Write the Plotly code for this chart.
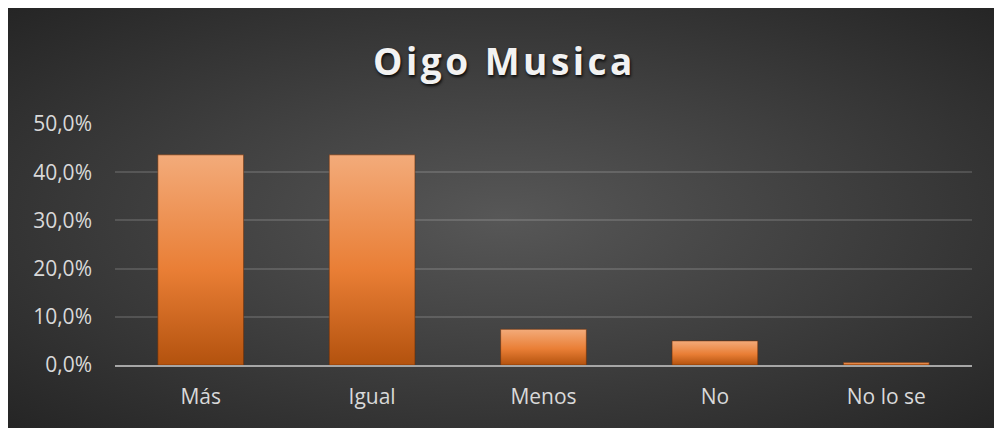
import base64
import plotly.graph_objects as go

# ---- data ----
categories = ["Más", "Igual", "Menos", "No", "No lo se"]
values = [0.436, 0.436, 0.074, 0.050, 0.005]
y_tickvals = [0.0, 0.1, 0.2, 0.3, 0.4, 0.5]
y_ticktext = ["0,0%", "10,0%", "20,0%", "30,0%", "40,0%", "50,0%"]
title_text = "Oigo Musica"

W, H = 994, 420
L, R, T, B = 107, 30, 116, 63
pw, ph = W - L - R, H - T - B

# radial gradient background
svg = ("<svg xmlns='http://www.w3.org/2000/svg' width='994' height='420' preserveAspectRatio='none'>"
       "<defs><radialGradient id='g' cx='0.5' cy='0.5' r='0.72'>"
       "<stop offset='0' stop-color='#575757'/><stop offset='1' stop-color='#242424'/>"
       "</radialGradient></defs><rect width='994' height='420' fill='url(#g)'/></svg>")
src = "data:image/svg+xml;base64," + base64.b64encode(svg.encode()).decode()

fig = go.Figure()
bw = 0.25
for i, (c, v) in enumerate(zip(categories, values)):
    fig.add_trace(go.Scatter(
        x=[i - bw, i - bw, i + bw, i + bw, i - bw],
        y=[0, v, v, 0, 0],
        mode="lines", fill="toself",
        line=dict(color="rgba(110,45,5,0.55)", width=1),
        fillgradient=dict(type="vertical", start=0, stop=v,
                          colorscale=[[0, "#B3520E"], [0.45, "#E97E35"], [1, "#F3AB7A"]]),
        hoverinfo="skip", showlegend=False, name=c))

fig.update_layout(
    width=W, height=H,
    margin=dict(l=L, r=R, t=T, b=B),
    paper_bgcolor="#2a2a2a", plot_bgcolor="rgba(0,0,0,0)",
    images=[dict(source=src, xref="paper", yref="paper",
                 x=-L / pw, y=1 + T / ph, sizex=W / pw, sizey=H / ph,
                 xanchor="left", yanchor="top", sizing="stretch", layer="below")],
    title=dict(text="<span style='letter-spacing:3.5px'>" + title_text + "</span>",
               x=496.5 / W, xref="container", xanchor="center",
               y=1 - 54 / H, yref="container", yanchor="middle",
               font=dict(family="Open Sans", size=37, color="#f2f2f2", weight="bold",
                         shadow="1px 2px 3px rgba(0,0,0,0.85)")),
    font=dict(family="Open Sans", color="#d9d9d9"),
    xaxis=dict(range=[-0.5, 4.5], tickvals=list(range(len(categories))), ticktext=categories,
               showgrid=False, zeroline=False, showline=True, linecolor="#a6a6a6", linewidth=2,
               ticks="", tickfont=dict(size=21, color="#d9d9d9"), ticklabelstandoff=12,
               fixedrange=True),
    yaxis=dict(range=[0, 0.5], tickvals=y_tickvals, ticktext=y_ticktext,
               showgrid=True, gridcolor="rgba(255,255,255,0.14)", gridwidth=1.5,
               zeroline=False, showline=False, ticks="",
               tickfont=dict(size=21, color="#d9d9d9"), ticklabelstandoff=22,
               fixedrange=True),
)

fig.write_html("out.html")
